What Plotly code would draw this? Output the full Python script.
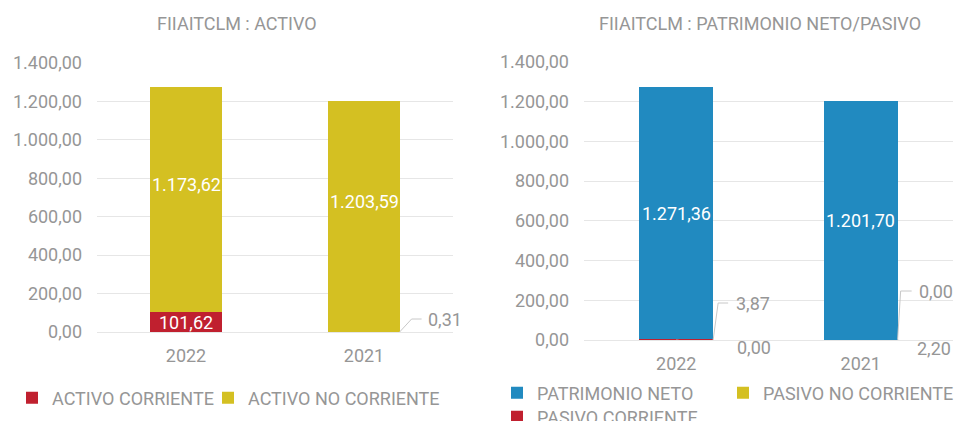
import plotly.graph_objects as go

years = ["2022", "2021"]
activo_corriente = [101.62, 0.31]
activo_no_corriente = [1173.62, 1203.59]
pasivo_corriente = [3.87, 2.20]
pasivo_no_corriente = [0.00, 0.00]
patrimonio_neto = [1271.36, 1201.70]
y_ticks = [0, 200, 400, 600, 800, 1000, 1200, 1400]

RED = "#C0202F"
YEL = "#D4C022"
BLUE = "#218AC0"
GRAY = "#969696"
GRID = "#E6E6E6"
LEAD = "#C8C8C8"
FONT = "Roboto"
BW = 0.4


def fmt(v):
    s = f"{v:,.2f}"
    return s.replace(",", "X").replace(".", ",").replace("X", ".")


fig = go.Figure()

# Left chart (ACTIVO)
fig.add_bar(x=years, y=activo_corriente, name="ACTIVO CORRIENTE", marker_color=RED,
            width=BW, xaxis="x", yaxis="y", legend="legend", showlegend=True)
fig.add_bar(x=years, y=activo_no_corriente, name="ACTIVO NO CORRIENTE", marker_color=YEL,
            width=BW, xaxis="x", yaxis="y", legend="legend2", showlegend=True)

# Right chart (PATRIMONIO NETO / PASIVO)
fig.add_bar(x=years, y=pasivo_corriente, name="PASIVO CORRIENTE", marker_color=RED,
            width=BW, xaxis="x2", yaxis="y2", legend="legend5", showlegend=True)
fig.add_bar(x=years, y=pasivo_no_corriente, name="PASIVO NO CORRIENTE", marker_color=YEL,
            width=BW, xaxis="x2", yaxis="y2", legend="legend4", showlegend=True)
fig.add_bar(x=years, y=patrimonio_neto, name="PATRIMONIO NETO", marker_color=BLUE,
            width=BW, xaxis="x2", yaxis="y2", legend="legend3", showlegend=True)

fig.update_traces(marker_line_width=0, hoverinfo="x+y+name")

annotations = []
shapes = []

# In-bar labels, left chart
for i, yr in enumerate(years):
    base = activo_corriente[i]
    v = activo_no_corriente[i]
    annotations.append(dict(x=i, y=base + v / 2, xref="x", yref="y", text=fmt(v),
                            showarrow=False, yshift=15,
                            font=dict(color="white", size=18, family=FONT)))
# red label inside 2022
annotations.append(dict(x=0, y=activo_corriente[0] / 2, xref="x", yref="y",
                        text=fmt(activo_corriente[0]), showarrow=False,
                        font=dict(color="white", size=18, family=FONT)))
# leader label 0,31
shapes.append(dict(type="path", xref="x", yref="y", xsizemode="pixel", ysizemode="pixel",
                   xanchor=1 + BW / 2, yanchor=0, path="M0,0 L12,13 L22,13",
                   line=dict(color=LEAD, width=1)))
annotations.append(dict(x=1 + BW / 2, y=0, xref="x", yref="y", text=fmt(activo_corriente[1]),
                        showarrow=False, xanchor="left", xshift=26, yshift=13,
                        font=dict(color=GRAY, size=18, family=FONT)))

# In-bar labels, right chart
for i, yr in enumerate(years):
    base = pasivo_corriente[i] + pasivo_no_corriente[i]
    v = patrimonio_neto[i]
    annotations.append(dict(x=i, y=base + v / 2, xref="x2", yref="y2", text=fmt(v),
                            showarrow=False,
                            font=dict(color="white", size=18, family=FONT)))

# leader labels right chart
leaders = [
    # (x anchor, value, path, xshift, yshift)
    (0 + BW / 2, pasivo_corriente[0], "M0,0 L5,37 L15,37", 21, 37),
    (0, pasivo_no_corriente[0], "M0,0 L45,-7 L54,-7", 59, -7),
    (1 + BW / 2, pasivo_no_corriente[1], "M0,1 L3,49 L14,49", 19, 49),
    (1 + BW / 2, pasivo_corriente[1], "M0,1 L3,-8 L14,-8", 17, -8),
]
for xa, v, p, xs, ys in leaders:
    shapes.append(dict(type="path", xref="x2", yref="y2", xsizemode="pixel", ysizemode="pixel",
                       xanchor=xa, yanchor=0, path=p, line=dict(color=LEAD, width=1)))
    annotations.append(dict(x=xa, y=0, xref="x2", yref="y2", text=fmt(v), showarrow=False,
                            xanchor="left", xshift=xs, yshift=ys,
                            font=dict(color=GRAY, size=18, family=FONT)))

# Titles
annotations.append(dict(x=237 / 958, y=1 - 24 / 421, xref="paper", yref="paper",
                        text="FIIAITCLM : ACTIVO", showarrow=False, xanchor="center",
                        yanchor="middle", font=dict(color=GRAY, size=18, family=FONT)))
annotations.append(dict(x=760 / 958, y=1 - 24 / 421, xref="paper", yref="paper",
                        text="FIIAITCLM : PATRIMONIO NETO/PASIVO", showarrow=False,
                        xanchor="center", yanchor="middle",
                        font=dict(color=GRAY, size=18, family=FONT)))

yax = dict(range=[0, 1400], tickvals=y_ticks, tickformat=",.2f", showgrid=True,
           gridcolor=GRID, gridwidth=1, zeroline=True, zerolinecolor=GRID, zerolinewidth=1,
           showline=False, ticks="", ticklabelstandoff=14, automargin=False,
           tickfont=dict(color=GRAY, size=18, family=FONT), fixedrange=True)
xax = dict(type="category", range=[-0.5, 1.5], autorange=False, showgrid=False,
           zeroline=False, showline=False, ticks="", automargin=False,
           ticklabelstandoff=11, tickfont=dict(color=GRAY, size=18, family=FONT),
           fixedrange=True)

legfont = dict(color=GRAY, size=18, family=FONT)


def leg(xpx, ypx):
    return dict(orientation="h", x=xpx / 958, xanchor="left", y=1 - ypx / 421,
                yanchor="middle", font=legfont, bgcolor="rgba(0,0,0,0)", visible=True)


fig.update_layout(
    width=958, height=421,
    showlegend=True,
    margin=dict(l=0, r=0, t=0, b=0, autoexpand=False),
    paper_bgcolor="white", plot_bgcolor="white",
    barmode="stack", separators=",.",
    font=dict(family=FONT, color=GRAY),
    xaxis=dict(domain=[97 / 958, 453 / 958], anchor="y", **xax),
    yaxis=dict(domain=[(421 - 332) / 421, (421 - 63) / 421], anchor="x", **yax),
    xaxis2=dict(domain=[584 / 958, 953 / 958], anchor="y2", **xax),
    yaxis2=dict(domain=[(421 - 340) / 421, (421 - 62) / 421], anchor="x2", **yax),
    legend=leg(12, 398),
    legend2=leg(208, 398),
    legend3=leg(497, 393),
    legend4=leg(723, 393),
    legend5=leg(497, 417),
    annotations=annotations,
    shapes=shapes,
)

fig.write_html("out.html", config={"displayModeBar": False},
               post_script="document.body.style.margin='0';document.body.style.overflow='hidden';")
